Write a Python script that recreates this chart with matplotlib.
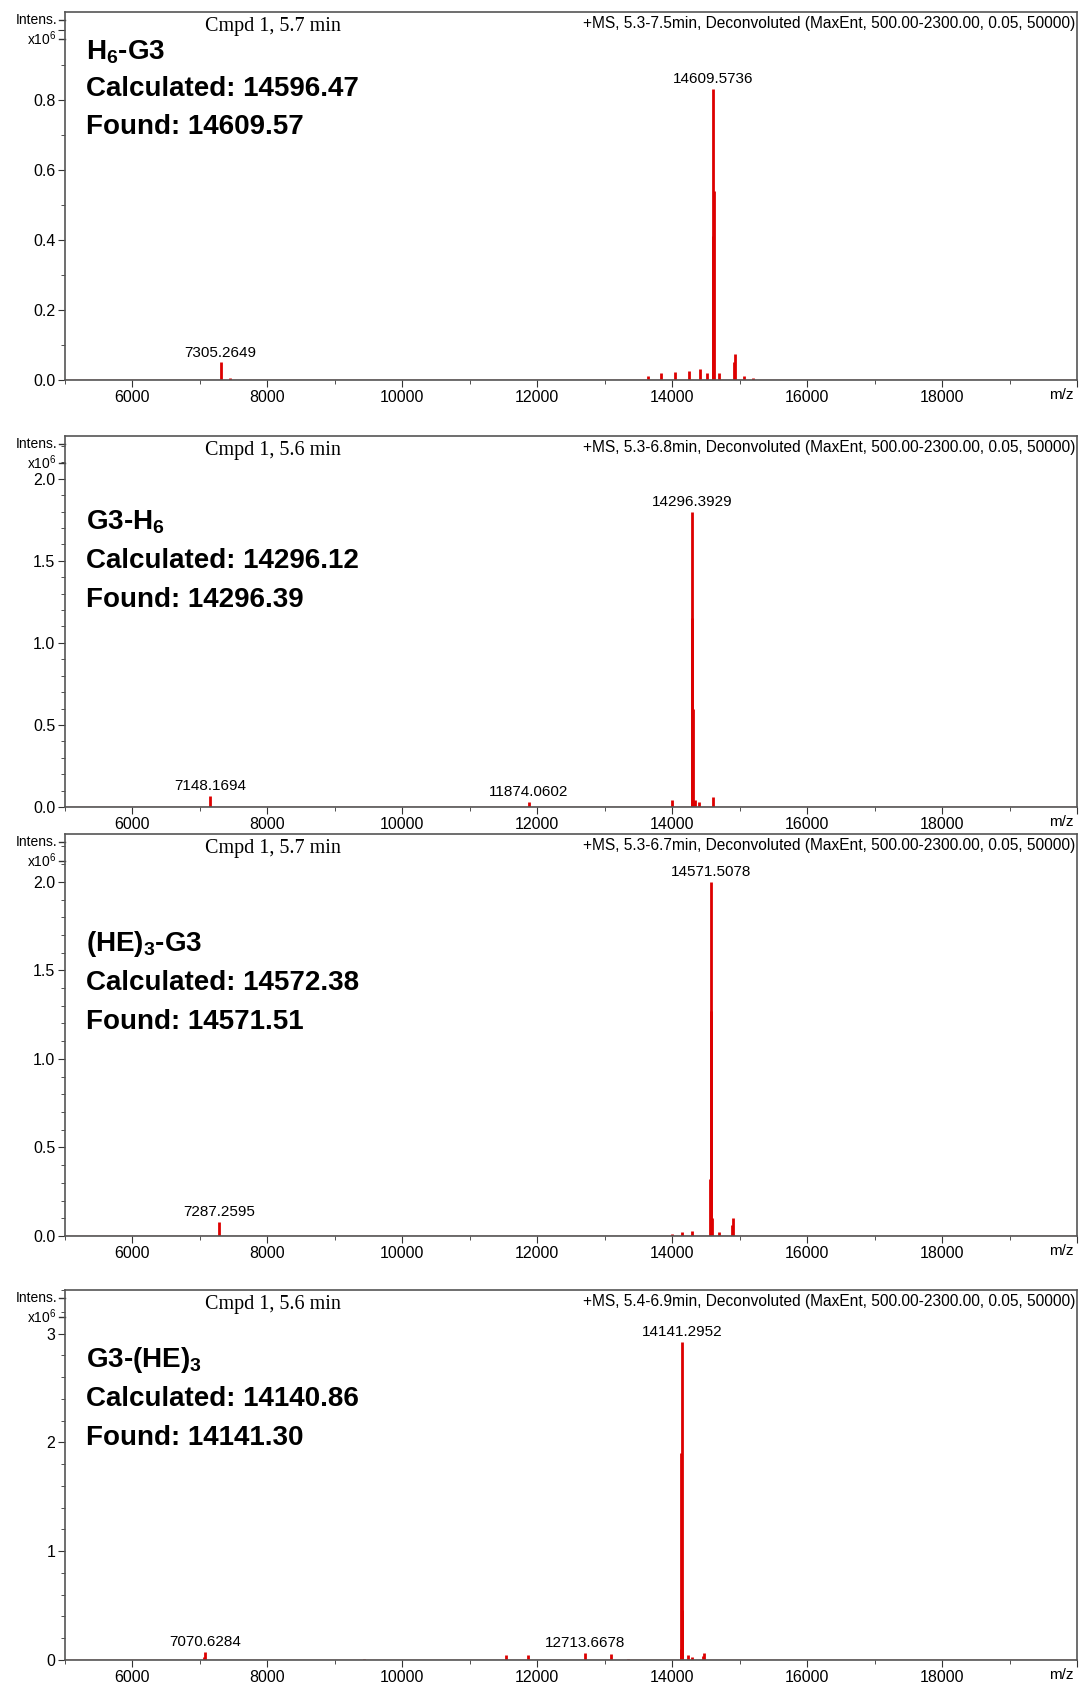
import matplotlib.pyplot as plt
from matplotlib.ticker import MultipleLocator, FuncFormatter

plt.rcParams['font.family'] = ['Liberation Sans', 'DejaVu Sans']
plt.rcParams['mathtext.fontset'] = 'custom'
plt.rcParams['mathtext.rm'] = 'Liberation Sans'
plt.rcParams['mathtext.bf'] = 'Liberation Sans:bold'

RED = '#dd0000'

# ---- panel 1: H6-G3 ----
p1_mz = [7305.26, 7450, 13640, 13840, 14040, 14250, 14415, 14520,
         14604, 14609.57, 14614, 14700, 14915, 14930, 15060, 15200]
p1_int = [0.05, 0.005, 0.01, 0.02, 0.022, 0.025, 0.03, 0.02,
          0.41, 0.83, 0.54, 0.02, 0.05, 0.075, 0.01, 0.005]
p1_labels = [7305.2649, 14609.5736]
p1_name = r"$\mathbf{H_{6}}$-G3"
p1_calc = "Calculated: 14596.47"
p1_found = "Found: 14609.57"
p1_cmpd = "Cmpd 1, 5.7 min"
p1_ms = "+MS, 5.3-7.5min, Deconvoluted (MaxEnt, 500.00-2300.00, 0.05, 50000)"

# ---- panel 2: G3-H6 ----
p2_mz = [7148.17, 11874.06, 14000, 14291, 14296.39, 14301, 14340, 14400, 14607]
p2_int = [0.07, 0.03, 0.04, 1.15, 1.80, 0.6, 0.04, 0.03, 0.06]
p2_labels = [7148.1694, 11874.0602, 14296.3929]
p2_name = r"G3-$\mathbf{H_{6}}$"
p2_calc = "Calculated: 14296.12"
p2_found = "Found: 14296.39"
p2_cmpd = "Cmpd 1, 5.6 min"
p2_ms = "+MS, 5.3-6.8min, Deconvoluted (MaxEnt, 500.00-2300.00, 0.05, 50000)"

# ---- panel 3: (HE)3-G3 ----
p3_mz = [7287.26, 14000, 14150, 14300, 14566, 14571.51, 14576, 14590, 14700, 14890, 14904]
p3_int = [0.08, 0.01, 0.02, 0.03, 0.32, 2.0, 1.27, 0.1, 0.02, 0.06, 0.1]
p3_labels = [7287.2595, 14571.5078]
p3_name = r"(HE)$\mathbf{_{3}}$-G3"
p3_calc = "Calculated: 14572.38"
p3_found = "Found: 14571.51"
p3_cmpd = "Cmpd 1, 5.7 min"
p3_ms = "+MS, 5.3-6.7min, Deconvoluted (MaxEnt, 500.00-2300.00, 0.05, 50000)"

# ---- panel 4: G3-(HE)3 ----
p4_mz = [7062, 7070.63, 9430, 11541, 11856, 12713.67, 13095, 13344,
         14130, 14136, 14141.30, 14146, 14230, 14295, 14459, 14470]
p4_int = [0.03, 0.076, 0.012, 0.046, 0.046, 0.067, 0.055, 0.006,
          0.1, 1.9, 2.92, 0.46, 0.05, 0.03, 0.04, 0.067]
p4_labels = [7070.6284, 12713.6678, 14141.2952]
p4_name = r"G3-(HE)$\mathbf{_{3}}$"
p4_calc = "Calculated: 14140.86"
p4_found = "Found: 14141.30"
p4_cmpd = "Cmpd 1, 5.6 min"
p4_ms = "+MS, 5.4-6.9min, Deconvoluted (MaxEnt, 500.00-2300.00, 0.05, 50000)"

x_ticks = [6000, 8000, 10000, 12000, 14000, 16000, 18000, 20000]
x_labels = ["6000", "8000", "10000", "12000", "14000", "16000", "18000", ""]

panels = [
    (p1_mz, p1_int, p1_labels, p1_name, p1_calc, p1_found, p1_cmpd, p1_ms),
    (p2_mz, p2_int, p2_labels, p2_name, p2_calc, p2_found, p2_cmpd, p2_ms),
    (p3_mz, p3_int, p3_labels, p3_name, p3_calc, p3_found, p3_cmpd, p3_ms),
    (p4_mz, p4_int, p4_labels, p4_name, p4_calc, p4_found, p4_cmpd, p4_ms),
]

# layout in pixels
W, H = 1083, 1686
left_px, right_px = 65, 1077
tops = [12, 436, 834, 1290]
bottoms = [380, 807, 1236, 1660]
ymaxs = [1.05, 2.26, 2.27, 3.4]
majors = [0.2, 0.5, 0.5, 1.0]
minors = [0.1, 0.1, 0.1, 0.2]
label_max = [0.8, 2.0, 2.0, 3]      # highest y value that still gets a number
decimals = [1, 1, 1, 0]
text_y = [[40, 77, 115], [86, 125, 164], [110, 149, 188], [70, 109, 148]]


def y_formatter(top, nd):
    def fmt(v, pos):
        if v > top + 1e-6:
            return ""
        return f"{v:.{nd}f}"
    return FuncFormatter(fmt)


fig = plt.figure(figsize=(W / 100, H / 100), dpi=100)

for i, (mz, inten, labels, name, calc, found, cmpd, ms) in enumerate(panels):
    ax_h = bottoms[i] - tops[i]
    ax = fig.add_axes([left_px / W, 1 - bottoms[i] / H,
                       (right_px - left_px) / W, ax_h / H])

    # spectrum sticks and baseline
    ax.axhline(0, color='#b01010', lw=1.0, zorder=1)
    ax.vlines(mz, 0, inten, color=RED, lw=2.0, zorder=2)

    # peak labels
    for lm in labels:
        h = max(v for m, v in zip(mz, inten) if abs(m - lm) < 30)
        ax.annotate(f"{lm:.4f}", xy=(lm, h), xytext=(0, 2),
                    textcoords='offset points', ha='center', va='bottom',
                    fontsize=11)

    ax.set_xlim(5000, 20000)
    ax.set_ylim(0, ymaxs[i])
    ax.set_xticks(x_ticks)
    ax.set_xticklabels(x_labels)
    ax.xaxis.set_minor_locator(MultipleLocator(1000))
    ax.yaxis.set_major_locator(MultipleLocator(majors[i]))
    ax.yaxis.set_minor_locator(MultipleLocator(minors[i]))
    ax.yaxis.set_major_formatter(y_formatter(label_max[i], decimals[i]))
    ax.tick_params(which='both', direction='out', labelsize=11.5, color='#333333', pad=2)
    ax.tick_params(which='major', length=5)
    ax.tick_params(which='minor', length=3)
    for sp in ax.spines.values():
        sp.set_color('#555555')
        sp.set_linewidth(1.2)

    # axis unit label at the right end of the x axis
    ax.annotate("m/z", xy=(1, 0), xycoords='axes fraction', xytext=(-3, -8),
                textcoords='offset pixels', ha='right', va='top', fontsize=11)

    # "Intens." / "x10^6" tagged ticks on the y axis
    for off, txt in [(8, "Intens."), (27, r"x10$^{6}$")]:
        yf = 1 - off / ax_h
        ax.plot([-0.006, 0], [yf, yf], transform=ax.transAxes, color='#333333',
                lw=1, clip_on=False)
        ax.text(-0.008, yf, txt, transform=ax.transAxes, ha='right', va='center',
                fontsize=10)

    ax.text(0.205, 1 - 15 / ax_h, cmpd, transform=ax.transAxes, ha='center', va='center',
            fontsize=14.5, family=['Liberation Serif'])
    ax.text(0.998, 1 - 4 / ax_h, ms, transform=ax.transAxes, ha='right', va='top',
            fontsize=11.2)

    for txt, off in zip([name, calc, found], text_y[i]):
        ax.text(21 / (right_px - left_px), 1 - off / ax_h, txt, transform=ax.transAxes,
                ha='left', va='center', fontsize=20, fontweight='bold')

fig.savefig('out.png', dpi=100)
